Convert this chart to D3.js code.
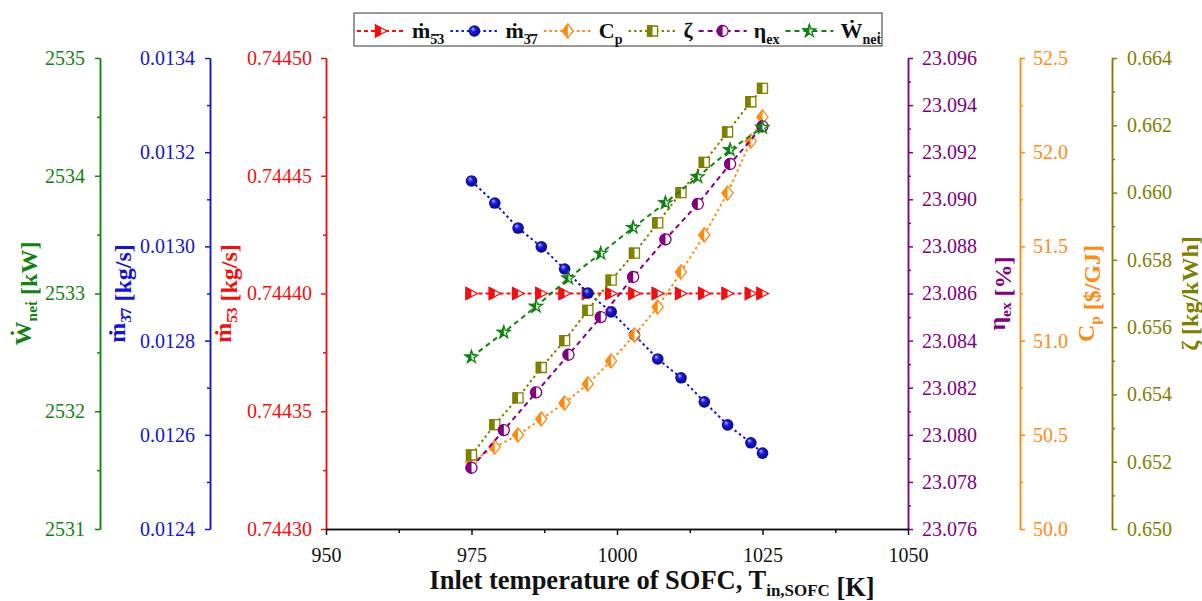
<!DOCTYPE html>
<html>
<head>
<meta charset="utf-8">
<script src="https://cdn.jsdelivr.net/npm/d3@7"></script>
<style>
  body { margin: 0; background: #fff; }
  svg { font-family: 'Liberation Serif', 'Times New Roman', serif; display: block; }
  svg text { font-family: 'Liberation Serif', 'Times New Roman', serif !important; }
</style>
</head>
<body>
<svg id="chart"></svg>
<script>
// Full size of the svg element.
const WIDTH = 1202;
const HEIGHT = 601;

// Plot frame (the red axis on the left, the purple one on the right).
const PLOT_LEFT = 326;
const PLOT_RIGHT = 908;
const PLOT_TOP = 58;
const PLOT_BOTTOM = 529;

const FONT = "'Liberation Serif', 'Times New Roman', serif";

const RED = '#ee1111';
const BLUE = '#1414c8';
const ORANGE = '#ff8a12';
const OLIVE = '#808000';
const PURPLE = '#800080';
const GREEN = '#118211';

// Inlet temperatures. Two series were sampled on a coarser grid.
const tempFine = [975, 979, 983, 987, 991, 995, 999, 1003, 1007, 1011, 1015, 1019, 1023, 1025];
const tempCoarse = [975, 980.56, 986.11, 991.67, 997.22, 1002.78, 1008.33, 1013.89, 1019.44, 1025];

// Series values.
const m53 = [0.7444, 0.7444, 0.7444, 0.7444, 0.7444, 0.7444, 0.7444,
  0.7444, 0.7444, 0.7444, 0.7444, 0.7444, 0.7444, 0.7444];
const m37 = [0.013139, 0.013092, 0.013039, 0.012999, 0.012952, 0.012901, 0.012861,
  0.012812, 0.012761, 0.012721, 0.012670, 0.012621, 0.012583, 0.012561];
const cp = [50.356, 50.435, 50.499, 50.584, 50.669, 50.770, 50.892,
  51.030, 51.178, 51.364, 51.561, 51.783, 52.059, 52.187];
const zeta = [0.6522, 0.6531, 0.6539, 0.6548, 0.6556, 0.6565, 0.6574,
  0.6582, 0.6591, 0.6600, 0.6609, 0.6618, 0.6627, 0.6631];
const etaEx = [23.0786, 23.0802, 23.0818, 23.0834, 23.0850,
  23.0867, 23.0883, 23.0898, 23.0915, 23.0931];
const wNet = [2532.46, 2532.67, 2532.89, 2533.13, 2533.34,
  2533.56, 2533.77, 2533.99, 2534.22, 2534.41];

// Tick labels of every axis.
const xTicks = [950, 975, 1000, 1025, 1050];
const wTicks = [2531, 2532, 2533, 2534, 2535];
const m37Ticks = [0.0124, 0.0126, 0.0128, 0.0130, 0.0132, 0.0134];
const m53Ticks = [0.74430, 0.74435, 0.74440, 0.74445, 0.74450];
const etaTicks = [23.076, 23.078, 23.080, 23.082, 23.084, 23.086, 23.088, 23.090, 23.092, 23.094, 23.096];
const cpTicks = [50.0, 50.5, 51.0, 51.5, 52.0, 52.5];
const zetaTicks = [0.650, 0.652, 0.654, 0.656, 0.658, 0.660, 0.662, 0.664];

const svg = d3.select('#chart').attr('width', WIDTH).attr('height', HEIGHT);
const defs = svg.append('defs');

// Left half of a marker, used for the half-filled symbols.
defs.append('clipPath').attr('id', 'leftHalf')
  .append('rect').attr('x', -12).attr('y', -12).attr('width', 12).attr('height', 24);

// Shaded ball for the blue series.
const grad = defs.append('radialGradient').attr('id', 'ball')
  .attr('cx', 0.5).attr('cy', 0.5).attr('r', 0.6).attr('fx', 0.35).attr('fy', 0.3);
grad.append('stop').attr('offset', 0).attr('stop-color', '#b8bcff');
grad.append('stop').attr('offset', 0.35).attr('stop-color', '#1c1cd8');
grad.append('stop').attr('offset', 1).attr('stop-color', '#00006e');

const x = d3.scaleLinear().domain([950, 1050]).range([PLOT_LEFT, PLOT_RIGHT]);
const yRange = [PLOT_BOTTOM, PLOT_TOP];
const yW = d3.scaleLinear().domain([2531, 2535]).range(yRange);
const yM37 = d3.scaleLinear().domain([0.0124, 0.0134]).range(yRange);
const yM53 = d3.scaleLinear().domain([0.7443, 0.7445]).range(yRange);
const yEta = d3.scaleLinear().domain([23.076, 23.096]).range(yRange);
const yCp = d3.scaleLinear().domain([50, 52.5]).range(yRange);
const yZeta = d3.scaleLinear().domain([0.650, 0.664]).range(yRange);

// Midpoints between major ticks.
const halves = ticks => d3.pairs(ticks, (a, b) => (a + b) / 2);

function styleAxis(g, color) {
  // d3 puts sans-serif on the axis group, switch back to the serif face.
  g.attr('font-family', FONT).attr('font-size', 20);
  g.selectAll('path, line').attr('stroke', color).attr('stroke-width', 1.5);
  g.selectAll('text').attr('fill', color).style('font-family', FONT);
}

function drawYAxis(opts) {
  const axisFn = opts.side === 'left' ? d3.axisLeft : d3.axisRight;
  const minor = svg.append('g').attr('transform', `translate(${opts.x},0)`)
    .call(axisFn(opts.scale).tickValues(halves(opts.ticks)).tickSize(3).tickSizeOuter(0).tickFormat(''));
  styleAxis(minor, opts.color);
  const major = svg.append('g').attr('transform', `translate(${opts.x},0)`)
    .call(axisFn(opts.scale).tickValues(opts.ticks).tickSize(5).tickSizeOuter(0)
      .tickPadding(opts.padding).tickFormat(d3.format(opts.format)));
  styleAxis(major, opts.color);
}

// Text made of plain and subscript pieces.
function addRichText(text, parts, size) {
  parts.forEach(p => {
    if (p.sub) {
      text.append('tspan').attr('font-size', size * 0.64).attr('dy', size * 0.25).text(p.t);
      text.append('tspan').attr('font-size', size).attr('dy', -size * 0.25).text('');
    } else {
      text.append('tspan').attr('font-size', size).text(p.t);
    }
  });
  return text;
}

function drawYTitle(cx, parts, color) {
  const t = svg.append('text')
    .attr('transform', `translate(${cx},${(PLOT_TOP + PLOT_BOTTOM) / 2}) rotate(-90)`)
    .attr('text-anchor', 'middle').attr('font-weight', 'bold').attr('fill', color);
  addRichText(t, parts, 24);
}

// Left side axes.
drawYAxis({scale: yW, x: 100, side: 'left', color: GREEN, ticks: wTicks, format: 'd', padding: 10});
drawYAxis({scale: yM37, x: 210, side: 'left', color: BLUE, ticks: m37Ticks, format: '.4f', padding: 10});
drawYAxis({scale: yM53, x: PLOT_LEFT, side: 'left', color: RED, ticks: m53Ticks, format: '.5f', padding: 9});

// Right side axes.
drawYAxis({scale: yEta, x: PLOT_RIGHT, side: 'right', color: PURPLE, ticks: etaTicks, format: '.3f', padding: 9});
drawYAxis({scale: yCp, x: 1020, side: 'right', color: ORANGE, ticks: cpTicks, format: '.1f', padding: 8});
drawYAxis({scale: yZeta, x: 1112, side: 'right', color: OLIVE, ticks: zetaTicks, format: '.3f', padding: 10});

drawYTitle(31, [{t: 'Ẇ'}, {t: 'neṫ', sub: true}, {t: ' [kW]'}], GREEN);
drawYTitle(125, [{t: 'ṁ'}, {t: '3\u03077', sub: true}, {t: ' [kg/s]'}], BLUE);
drawYTitle(231, [{t: 'ṁ'}, {t: '5\u03073', sub: true}, {t: ' [kg/s]'}], RED);
drawYTitle(1005, [{t: 'η'}, {t: 'ex', sub: true}, {t: ' [%]'}], PURPLE);
drawYTitle(1094, [{t: 'C'}, {t: 'p', sub: true}, {t: ' [$/GJ]'}], ORANGE);
drawYTitle(1198, [{t: 'ζ [kg/kWh]'}], OLIVE);

// Bottom axis.
const xMinor = svg.append('g').attr('transform', `translate(0,${PLOT_BOTTOM})`)
  .call(d3.axisBottom(x).tickValues(halves(xTicks)).tickSize(4).tickSizeOuter(0).tickFormat(''));
styleAxis(xMinor, '#111');
const xAxis = svg.append('g').attr('transform', `translate(0,${PLOT_BOTTOM})`)
  .call(d3.axisBottom(x).tickValues(xTicks).tickSize(6).tickSizeOuter(0).tickPadding(13).tickFormat(d3.format('d')));
styleAxis(xAxis, '#111');

const xTitle = svg.append('text').attr('x', 652).attr('y', 589)
  .attr('text-anchor', 'middle').attr('font-weight', 'bold').attr('fill', '#111');
addRichText(xTitle, [{t: 'Inlet temperature of SOFC, T'}, {t: 'in,SOFC', sub: true}, {t: ' [K]'}], 26.5);

// Marker outlines, centred on 0,0.
const shapes = {
  tri: 'M-5.5,-6L6,0L-5.5,6Z',
  diamond: 'M0,-7L5.5,0L0,7L-5.5,0Z',
  square: 'M-5,-5H5V5H-5Z',
  circle: 'M-5.5,0A5.5,5.5 0 1,0 5.5,0A5.5,5.5 0 1,0 -5.5,0Z',
  star: d3.symbol(d3.symbolStar, 48)()
};

function drawMarker(g, kind, color) {
  if (kind === 'ball') {
    g.append('circle').attr('r', 5.8).attr('fill', 'url(#ball)');
    return;
  }
  g.append('path').attr('d', shapes[kind]).attr('fill', '#fff')
    .attr('stroke', color).attr('stroke-width', 1.3);
  g.append('path').attr('d', shapes[kind]).attr('fill', color)
    .attr('stroke', color).attr('stroke-width', 1.3).attr('clip-path', 'url(#leftHalf)');
}

const series = [
  {xs: tempFine, ys: m53, scale: yM53, color: RED, marker: 'tri', dash: '4,3', label: [{t: 'ṁ'}, {t: '5\u03073', sub: true}]},
  {xs: tempFine, ys: m37, scale: yM37, color: BLUE, marker: 'ball', dash: '2.5,3', label: [{t: 'ṁ'}, {t: '3\u03077', sub: true}]},
  {xs: tempFine, ys: cp, scale: yCp, color: ORANGE, marker: 'diamond', dash: '2.5,3', label: [{t: 'C'}, {t: 'p', sub: true}]},
  {xs: tempFine, ys: zeta, scale: yZeta, color: OLIVE, marker: 'square', dash: '2.5,3', label: [{t: 'ζ'}]},
  {xs: tempCoarse, ys: etaEx, scale: yEta, color: PURPLE, marker: 'circle', dash: '5,4', label: [{t: 'η'}, {t: 'ex', sub: true}]},
  {xs: tempCoarse, ys: wNet, scale: yW, color: GREEN, marker: 'star', dash: '5,4', label: [{t: 'Ẇ'}, {t: 'neṫ', sub: true}]}
];

series.forEach(s => {
  const points = s.xs.map((t, i) => [t, s.ys[i]]);
  const line = d3.line().x(d => x(d[0])).y(d => s.scale(d[1]));
  svg.append('path').datum(points).attr('d', line)
    .attr('fill', 'none').attr('stroke', s.color).attr('stroke-width', 2)
    .attr('stroke-dasharray', s.dash);
  svg.append('g').selectAll('g').data(points).join('g')
    .attr('transform', d => `translate(${x(d[0])},${s.scale(d[1])})`)
    .each(function () { drawMarker(d3.select(this), s.marker, s.color); });
});

// Legend across the top.
const legend = svg.append('g');
legend.append('rect').attr('x', 354).attr('y', 13).attr('width', 528).attr('height', 33)
  .attr('fill', '#fff').attr('stroke', '#555').attr('stroke-width', 1.2);
let lx = 357;
series.forEach(s => {
  legend.append('line').attr('x1', lx).attr('x2', lx + 48).attr('y1', 31).attr('y2', 31)
    .attr('stroke', s.color).attr('stroke-width', 2).attr('stroke-dasharray', s.dash);
  drawMarker(legend.append('g').attr('transform', `translate(${lx + 24},31)`), s.marker, s.color);
  const t = legend.append('text').attr('x', lx + 55).attr('y', 38)
    .attr('font-weight', 'bold').attr('fill', '#111');
  addRichText(t, s.label, 22);
  lx += 55 + t.node().getComputedTextLength() + 6;
});
</script>
</body>
</html>
